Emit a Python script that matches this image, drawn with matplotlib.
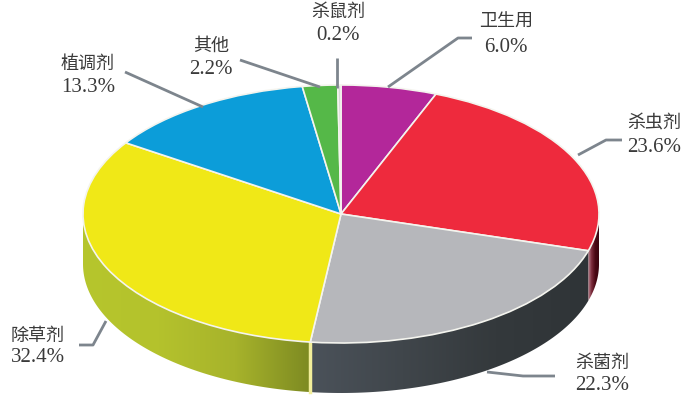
import numpy as np
import matplotlib
matplotlib.use("Agg")
import matplotlib.pyplot as plt
from matplotlib.colors import LinearSegmentedColormap
from matplotlib.patches import Polygon

names = ["卫生用", "杀虫剂", "杀菌剂", "除草剂", "植调剂", "其他", "杀鼠剂"]
shares = [6.0, 23.6, 22.3, 32.4, 13.3, 2.2, 0.2]
top_colors = ["#b3279a", "#ee2a3d", "#b6b7bb", "#f0e817", "#0c9dd9", "#55b848", "#d8d8d8"]

# боковая сторона: цвета градиента слева направо
side_colors = {
    "杀虫剂": ["#c08a95", "#7a2a3a", "#4a0814", "#3a0510"],
    "杀菌剂": ["#4b525a", "#40464b", "#34393c", "#2f3437"],
    "除草剂": ["#b6c62c", "#b4c22d", "#a7b32b", "#7d8a22"],
}

# разметка в пикселях картинки
CX, CY, RX, RY, DEPTH = 341, 214, 258, 129, 50
W, H = 690, 420

# подпись: центр, y двух строк, линия-выноска
labels = {
    "杀鼠剂": (338, 12, 36, [(337, 58), (337, 88)]),
    "卫生用": (506, 22, 47, [(388, 87), (458, 38), (472, 38)]),
    "杀虫剂": (654, 124, 147, [(578, 155), (606, 140), (622, 140)]),
    "杀菌剂": (602, 363, 385, [(487, 372), (523, 376), (555, 376)]),
    "除草剂": (38, 336, 358, [(106, 321), (93, 345), (79, 345)]),
    "植调剂": (88, 64, 87, [(125, 72), (203, 107)]),
    "其他": (211, 46, 69, [(240, 60), (320, 87)]),
}

font = ["Liberation Serif", "Noto Sans CJK SC"]

fig = plt.figure(figsize=(W / 100, H / 100), dpi=100)
ax = fig.add_axes([0, 0, 1, 1])

ax.pie(shares, startangle=90, counterclock=False, colors=top_colors,
       wedgeprops=dict(edgecolor="#f4f4ee", linewidth=1.2, zorder=3))

depth = DEPTH / RY
ends = np.cumsum(shares)
starts = ends - np.array(shares)

for name, start, end in zip(names, starts, ends):
    if name not in side_colors:
        continue
    # clockwise from the top, keep only the part on the front half
    a0 = 90 - start * 3.6
    a1 = 90 - end * 3.6
    a0 = min(a0, 0)
    a1 = max(a1, -180)
    t = np.radians(np.linspace(a0, a1, 80))
    x = np.cos(t)
    y = np.sin(t)
    pts = np.r_[np.c_[x, y], np.c_[x[::-1], y[::-1] - depth]]
    poly = Polygon(pts, closed=True, transform=ax.transData, facecolor="none", edgecolor="none")
    ax.add_patch(poly)
    cmap = LinearSegmentedColormap.from_list(name, side_colors[name])
    im = ax.imshow(np.linspace(0, 1, 256).reshape(1, -1), cmap=cmap, aspect="auto",
                   extent=[x.min(), x.max(), y.min() - depth, y.max()], zorder=1)
    im.set_clip_path(poly)
    # светлый шов на левом краю сектора
    if name == "杀菌剂":
        ax.plot([x[-1], x[-1]], [y[-1], y[-1] - depth], color="#f2ee9a", lw=2.5, zorder=2)

ax.set_aspect("auto")
ax.set_xlim(-CX / RX, (W - CX) / RX)
ax.set_ylim((CY - H) / RY, CY / RY)
ax.axis("off")

# подписи поверх, в координатах картинки
ov = fig.add_axes([0, 0, 1, 1], facecolor="none")
ov.set_xlim(0, W)
ov.set_ylim(H, 0)
ov.axis("off")

for name, share in zip(names, shares):
    cx, y1, y2, line = labels[name]
    ov.plot([p[0] for p in line], [p[1] for p in line], color="#7d858d", lw=2, solid_capstyle="butt", zorder=4)
    ov.text(cx, y1, name, ha="center", va="center", fontsize=13, color="#3a3a3a", family=font)
    ov.text(cx, y2, f"{share:.1f}%", ha="center", va="center", fontsize=15, color="#3a3a3a", family=font)

fig.savefig("out.png", dpi=100, facecolor="white")
